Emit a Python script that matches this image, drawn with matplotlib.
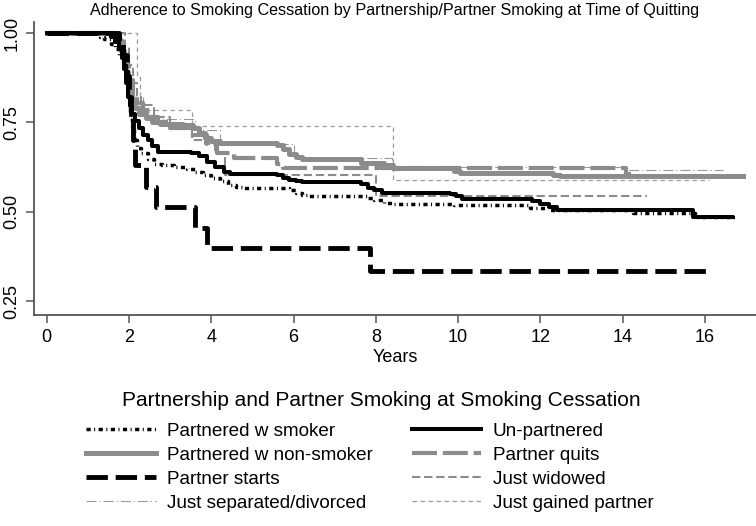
import matplotlib
matplotlib.use("Agg")
import matplotlib.pyplot as plt

plt.rcParams['font.family'] = ['Liberation Sans', 'DejaVu Sans']

title = "Adherence to Smoking Cessation by Partnership/Partner Smoking at Time of Quitting"
legend_title = "Partnership and Partner Smoking at Smoking Cessation"
x_label = "Years"
x_ticks = [0, 2, 4, 6, 8, 10, 12, 14, 16]
y_ticks = [0.25, 0.50, 0.75, 1.00]
y_tick_labels = ["0.25", "0.50", "0.75", "1.00"]

# Kaplan-Meier step curves (time, survival)
smoker_t = [0, 1.3, 1.4, 1.55, 1.65, 1.75, 1.85, 1.92, 1.97, 2.02, 2.07, 2.12, 2.2, 2.3, 2.45, 2.6, 2.8, 3.1, 3.4,
            3.6, 3.8, 4.0, 4.2, 4.4, 4.6, 4.8, 5.9, 6.05, 6.2, 6.35, 7.8, 7.95, 8.2, 8.4, 9.9, 11.75, 12.2, 14.25,
            15.75, 16.75]
smoker_s = [1.0, 0.99, 0.985, 0.97, 0.955, 0.94, 0.91, 0.87, 0.82, 0.77, 0.73, 0.70, 0.68, 0.665, 0.648, 0.635,
            0.631, 0.626, 0.62, 0.612, 0.603, 0.595, 0.585, 0.576, 0.57, 0.567, 0.56, 0.553, 0.547, 0.545, 0.538,
            0.532, 0.526, 0.523, 0.519, 0.511, 0.505, 0.497, 0.486, 0.486]

unpart_t = [0, 1.55, 1.65, 1.75, 1.82, 1.88, 1.93, 1.98, 2.03, 2.08, 2.15, 2.25, 2.35, 2.45, 2.55, 2.7, 3.5, 3.7,
            3.9, 4.1, 4.3, 4.45, 5.6, 5.75, 5.9, 6.05, 6.2, 7.65, 7.8, 7.95, 8.15, 9.8, 9.95, 10.1, 11.8, 12.0, 12.2,
            12.4, 15.7, 16.65]
unpart_s = [1.0, 0.99, 0.975, 0.955, 0.93, 0.90, 0.86, 0.82, 0.795, 0.775, 0.755, 0.735, 0.715, 0.70, 0.685, 0.668,
            0.664, 0.655, 0.64, 0.625, 0.612, 0.606, 0.602, 0.596, 0.59, 0.586, 0.583, 0.577, 0.568, 0.56, 0.554,
            0.55, 0.543, 0.535, 0.531, 0.523, 0.514, 0.506, 0.486, 0.486]

nonsmk_t = [0, 1.7, 1.8, 1.87, 1.93, 1.98, 2.03, 2.08, 2.15, 2.25, 2.4, 2.55, 2.75, 3.3, 3.55, 3.7, 3.85, 4.0, 4.2,
            5.6, 5.75, 5.9, 6.05, 6.2, 7.65, 8.2, 8.42, 9.9, 10.05, 12.3, 12.47, 16.92]
nonsmk_s = [1.0, 0.98, 0.95, 0.92, 0.89, 0.86, 0.83, 0.81, 0.79, 0.775, 0.762, 0.752, 0.746, 0.742, 0.735, 0.72,
            0.706, 0.697, 0.692, 0.686, 0.675, 0.663, 0.654, 0.647, 0.636, 0.63, 0.622, 0.615, 0.608, 0.604, 0.60,
            0.60]

quits_t = [0, 1.7, 1.8, 1.9, 2.0, 2.1, 2.2, 2.35, 2.5, 2.7, 3.0, 3.55, 3.9, 4.15, 4.55, 5.6, 5.75, 14.09, 14.2]
quits_s = [1.0, 0.98, 0.95, 0.91, 0.87, 0.83, 0.805, 0.785, 0.765, 0.75, 0.735, 0.715, 0.69, 0.665, 0.65, 0.635,
           0.622, 0.607, 0.607]

starts_t = [0, 1.75, 1.85, 1.95, 2.0, 2.05, 2.1, 2.15, 2.4, 2.65, 3.6, 3.9, 7.85, 16.15]
starts_s = [1.0, 0.97, 0.94, 0.88, 0.82, 0.76, 0.70, 0.631, 0.57, 0.514, 0.455, 0.40, 0.335, 0.335]

widow_t = [0, 1.9, 2.0, 2.1, 2.2, 2.3, 2.6, 3.0, 3.52, 3.85, 4.1, 4.33, 8.0, 14.6]
widow_s = [1.0, 0.96, 0.91, 0.86, 0.82, 0.80, 0.765, 0.745, 0.70, 0.69, 0.668, 0.603, 0.544, 0.544]

separ_t = [0, 1.8, 1.9, 2.0, 2.1, 2.25, 2.5, 3.6, 4.2, 6.0, 8.4, 14.1, 16.43]
separ_s = [1.0, 0.97, 0.92, 0.86, 0.81, 0.78, 0.76, 0.73, 0.69, 0.65, 0.625, 0.617, 0.617]

gained_t = [0, 2.19, 2.27, 2.35, 3.52, 8.42, 16.1]
gained_s = [1.0, 0.878, 0.822, 0.785, 0.74, 0.59, 0.59]

GRAY = '#8c8c8c'
LGRAY = '#9a9a9a'

fig = plt.figure(figsize=(7.56, 5.26), dpi=100)
ax = fig.add_axes([0.045, 0.401, 0.955, 0.558])

series = {}
series['Just gained partner'] = ax.plot(gained_t, gained_s, drawstyle='steps-post', color=LGRAY, lw=0.9,
                                        dashes=(3.6, 2.8))[0]
series['Just separated/divorced'] = ax.plot(separ_t, separ_s, drawstyle='steps-post', color=LGRAY, lw=0.8,
                                            dashes=(9, 2.7, 1.0, 2.7))[0]
series['Just widowed'] = ax.plot(widow_t, widow_s, drawstyle='steps-post', color=GRAY, lw=1.5,
                                 dashes=(4.0, 1.8))[0]
series['Partner quits'] = ax.plot(quits_t, quits_s, drawstyle='steps-post', color=GRAY, lw=3.0,
                                  dashes=(6.0, 1.4))[0]
series['Partnered w non-smoker'] = ax.plot(nonsmk_t, nonsmk_s, drawstyle='steps-post', color=GRAY, lw=3.6)[0]
series['Partner starts'] = ax.plot(starts_t, starts_s, drawstyle='steps-post', color='black', lw=3.5,
                                   dashes=(4.4, 1.6))[0]
series['Un-partnered'] = ax.plot(unpart_t, unpart_s, drawstyle='steps-post', color='black', lw=2.9)[0]
series['Partnered w smoker'] = ax.plot(smoker_t, smoker_s, drawstyle='steps-post', color='black', lw=2.5,
                                       dashes=(1.2, 1.0, 0.3, 1.0))[0]

ax.set_xlim(-0.31, 17.24)
ax.set_ylim(0.211, 1.0325)
for s in ['top', 'right']:
    ax.spines[s].set_visible(False)
for s in ['left', 'bottom']:
    ax.spines[s].set_color('#555555')
    ax.spines[s].set_linewidth(1.3)
ax.set_xticks(x_ticks)
ax.set_yticks(y_ticks)
ax.set_yticklabels(y_tick_labels, rotation=90, va='center')
ax.tick_params(axis='both', length=6, width=1.1, color='#555555', labelsize=13, pad=4)
ax.set_xlabel(x_label, fontsize=13, labelpad=2)
fig.text(395 / 756, 0.995, title, fontsize=11.6, ha='center', va='top')

fig.text(0.504, 1 - 400 / 526, legend_title, fontsize=15, ha='center', va='center')

order = ['Partnered w smoker', 'Partnered w non-smoker', 'Partner starts', 'Just separated/divorced',
         'Un-partnered', 'Partner quits', 'Just widowed', 'Just gained partner']
leg = fig.legend([series[k] for k in order], order, ncol=2, loc='center', bbox_to_anchor=(0.489, 1 - 467 / 526),
                 frameon=False, fontsize=13.6, handlelength=3.7, handletextpad=0.6, columnspacing=2.05,
                 labelspacing=0.36, borderpad=0.1)

fig.savefig('out.png', dpi=100)
